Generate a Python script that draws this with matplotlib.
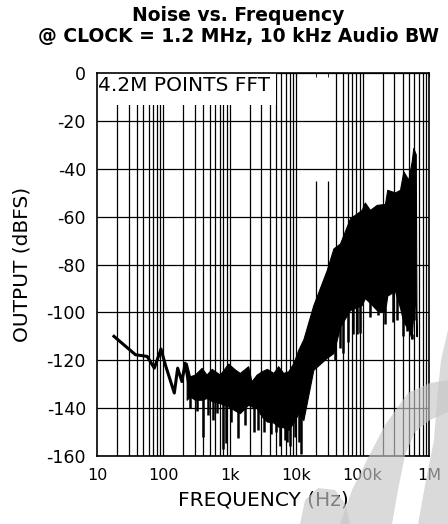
import numpy as np
import matplotlib
matplotlib.use("Agg")
import matplotlib.pyplot as plt
from matplotlib.patches import Rectangle, Polygon

# low-frequency trace (Hz, dBFS)
line_freq = [18, 38, 57, 73, 92, 107, 146, 164, 190, 213, 240]
line_db = [-110, -117.7, -118.4, -123.3, -115.3, -121.9, -133.7, -123.3, -128.9, -121.2, -129.5]

# dense FFT band: upper / lower envelope
band_freq = [224, 251, 298, 376, 447, 533, 708, 946, 1200, 1420, 1890, 2120, 2540,
             3030, 3620, 4540, 5350, 6390, 7600, 9100, 10800, 12800, 18100, 28800,
             36300, 45700, 64600, 96800, 108000, 129000, 163000, 217000, 235000,
             307000, 366000, 411000, 489000, 548000, 580000, 632000, 650000]
band_hi = [-121.1, -126.7, -126, -123.2, -126, -123.6, -126, -121.4, -123.9, -125.3,
           -122.5, -128.8, -126, -124.6, -123.6, -125.3, -122.5, -125.3, -124.6, -121.1,
           -115.5, -111.3, -97, -82.4, -73.3, -71.2, -60.7, -57.2, -54.1, -57.2, -55.1,
           -54.7, -48.8, -49.9, -48.8, -41.1, -44.6, -37, -31.3, -34, -110]
band_lo = [-136.5, -135.1, -136.5, -136.5, -135.8, -137, -137.9, -139.3, -141, -142.1,
           -138.6, -139.3, -140, -143.5, -145.6, -146, -147.7, -148, -149.1, -146,
           -142.1, -145, -124, -119, -117, -106, -99, -97, -94, -96, -99, -100, -93,
           -91, -98, -104, -107, -111, -100, -95, -110]

# deep single-bin dips below the band
dip_freq = [250, 320, 400, 470, 560, 650, 800, 890, 1050, 1350, 1700, 2300, 2670,
            3300, 4200, 4900, 5680, 6800, 7200, 8050, 9600, 11000, 12000,
            38000, 45000, 50000, 60000, 72000, 82000, 91000, 130000, 170000,
            217000, 290000, 330000, 400000, 460000, 548000, 600000]
dip_db = [-140, -141, -152, -143, -145, -142, -157, -154.7, -146, -152.5, -147, -150,
          -149, -150, -151, -150, -156, -153.3, -154, -156, -152, -154, -159,
          -120, -115, -117, -112.4, -109, -109, -108.5, -102, -101,
          -104.8, -104, -103, -110, -107.6, -111, -103]

y_ticks = [0, -20, -40, -60, -80, -100, -120, -140, -160]
x_ticks = [10, 100, 1e3, 1e4, 1e5, 1e6]
x_labels = ["10", "100", "1k", "10k", "100k", "1M"]

plt.rcParams["font.family"] = ["DejaVu Sans"]

fig = plt.figure(figsize=(4.48, 5.24), dpi=100)
ax = fig.add_axes([97 / 448, 1 - 456 / 524, 332 / 448, 383 / 524])
ax.set_xscale("log")
ax.set_xlim(10, 1e6)
ax.set_ylim(-160, 0)

# grid drawn by hand so a couple of lines can stop short like the original
vpos = [m * 10 ** d for d in range(1, 6) for m in range(1, 10)][1:]
for v in vpos:
    top = -45 if v in (2e4, 3e4) else 0
    ax.vlines(v, -160, top, color="black", lw=0.9, zorder=1)
ax.hlines(y_ticks, 10, 1e6, color="black", lw=0.9, zorder=1)

# white label box in the top-left corner
ax.add_patch(Rectangle((10, -13.4), 5000 - 10, 13.4, facecolor="white",
                       edgecolor="none", zorder=2))
ax.text(10.5, -1.2, "4.2M POINTS FFT", fontsize=14.5, va="top", ha="left", zorder=3)

ax.fill_between(band_freq, band_lo, band_hi, color="black", lw=0.8, zorder=3)
tops = np.interp(np.log10(dip_freq), np.log10(band_freq), band_lo)
ax.vlines(dip_freq, dip_db, tops + 2, color="black", lw=1.8, zorder=3)
ax.plot(line_freq, line_db, color="black", lw=2.2, zorder=4)

ax.set_yticks(y_ticks)
ax.set_yticklabels([str(t) for t in y_ticks])
ax.set_xticks(x_ticks)
ax.set_xticklabels(x_labels)
ax.tick_params(which="both", bottom=False, left=False, top=True, direction="in")
ax.tick_params(which="major", length=3)
ax.tick_params(which="minor", length=3)
ax.tick_params(axis="y", labelsize=12.5, pad=8)
ax.tick_params(axis="x", labelsize=11.5, pad=9)
for s in ax.spines.values():
    s.set_linewidth(1.2)

ax.set_xlabel("FREQUENCY (Hz)", fontsize=14.5, labelpad=5)
ax.set_ylabel("OUTPUT (dBFS)", fontsize=14.5, labelpad=11)

fig.text(238 / 448, 1 - 26 / 524, "Noise vs. Frequency\n@ CLOCK = 1.2 MHz, 10 kHz Audio BW",
         ha="center", va="center", fontsize=13.5, fontweight="bold", linespacing=1.1)

# faint watermark swooshes in the lower-right corner (pixel outlines)
marks = [
    [(340, 524), (352, 490), (367, 460), (385, 425), (408, 393), (430, 383), (448, 380),
     (448, 412), (430, 420), (415, 432), (405, 455), (398, 490), (392, 524)],
    [(448, 330), (441, 360), (437, 400), (434, 440), (426, 480), (418, 524), (448, 524)],
    [(300, 524), (305, 500), (318, 488), (335, 490), (346, 505), (350, 524)],
]
for pts in marks:
    fig.add_artist(Polygon([(x / 448, 1 - y / 524) for x, y in pts], closed=True,
                           transform=fig.transFigure, facecolor="0.78", alpha=0.65,
                           edgecolor="none", zorder=10))

fig.savefig("out.png", dpi=100)
